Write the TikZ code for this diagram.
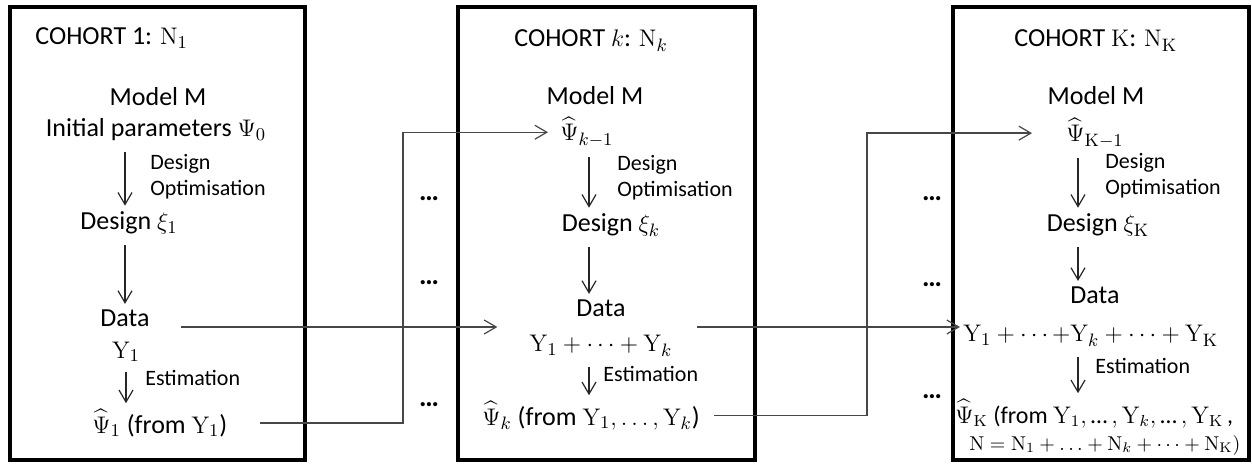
\documentclass[tikz,border=0pt]{standalone}
\usepackage{amsmath}
\usepackage[no-math]{fontspec}
\setmainfont{Carlito}
\usetikzlibrary{arrows.meta}
\begin{document}
\begin{tikzpicture}[x=0.5pt,y=-0.5pt,
  cohort/.style={draw=black,line width=1.7pt,inner sep=0pt,minimum height=226.5pt},
  txt/.style={inner sep=0pt,font=\fontsize{13}{15}\selectfont},
  lbl/.style={inner sep=0pt,font=\fontsize{11}{13}\selectfont,align=left,anchor=west},
  small/.style={inner sep=0pt,font=\fontsize{11}{13}\selectfont},
  dots/.style={inner sep=0pt,font=\fontsize{14}{16}\selectfont\bfseries},
  tip/.style={-{Straight Barb[length=6pt,width=7pt,line width=0.6pt]}},
  flow/.style={draw=black!85,line width=0.6pt,tip,shorten <=5pt,shorten >=3pt},
  link/.style={draw=black!72,line width=0.7pt}]
\useasboundingbox (0,0) rectangle (1252,464);
% cohort boxes
\node[cohort,minimum width=147.5pt] (b1) at (157.5,233.5) {};
\node[cohort,minimum width=148.5pt] (b2) at (606.5,233.5) {};
\node[cohort,minimum width=148pt] (b3) at (1101,233.5) {};
% cohort 1
\node[txt,anchor=base west] (t1) at (35,45) {COHORT 1: $\mathrm{N}_1$};
\node[txt,anchor=base] (m1) at (158,106) {Model M};
\node[txt,anchor=base] (i1) at (156,137) {Initial parameters $\Psi_0$};
\node[lbl] (do1) at (150,177) {Design\\Optimisation};
\node[txt,anchor=base] (d1) at (129,230) {Design $\xi_1$};
\node[txt,anchor=base] (da1) at (125,327) {Data};
\node[txt,anchor=base] (y1) at (126,358) {$\mathrm{Y}_1$};
\node[small,anchor=base west] (e1) at (145,386) {Estimation};
\node[txt,anchor=base west] (p1) at (92,433) {$\widehat{\Psi}_1$ (from $\mathrm{Y}_1$)};
% cohort k
\node[txt,anchor=base west] (t2) at (514,47) {COHORT $k$: $\mathrm{N}_k$};
\node[txt,anchor=base] (m2) at (595,105) {Model M};
\node[txt,anchor=base west] (p2a) at (560,141) {$\widehat{\Psi}_{k-1}$};
\node[lbl] (do2) at (617,178) {Design\\Optimisation};
\node[txt,anchor=base] (d2) at (611,232) {Design $\xi_k$};
\node[txt,anchor=base] (da2) at (601,317) {Data};
\node[txt,anchor=base] (y2) at (601,352) {$\mathrm{Y}_1+\cdots+\mathrm{Y}_k$};
\node[small,anchor=base west] (e2) at (603,382) {Estimation};
\node[txt,anchor=base west] (p2) at (482,425) {$\widehat{\Psi}_k$ (from $\mathrm{Y}_1,\ldots,\mathrm{Y}_k$)};
% cohort K
\node[txt,anchor=base west] (t3) at (1014,47) {COHORT $\mathrm{K}$: $\mathrm{N}_\mathrm{K}$};
\node[txt,anchor=base] (m3) at (1096,105) {Model M};
\node[txt,anchor=base west] (p3a) at (1066,142) {$\widehat{\Psi}_{\mathrm{K}-1}$};
\node[lbl] (do3) at (1105,176) {Design\\Optimisation};
\node[txt,anchor=base] (d3) at (1098,232) {Design $\xi_\mathrm{K}$};
\node[txt,anchor=base] (da3) at (1095,304) {Data};
\node[txt,anchor=base west] (y3) at (963,342) {$\mathrm{Y}_1+\cdots{+}\mathrm{Y}_k+\cdots+\mathrm{Y}_\mathrm{K}$};
\node[small,anchor=base west] (e3) at (1095,373) {Estimation};
\node[inner sep=0pt,font=\fontsize{12}{14}\selectfont,anchor=base west] (p3) at (955,423) {$\widehat{\Psi}_\mathrm{K}$ (from $\mathrm{Y}_1,\text{…}\,,\mathrm{Y}_k,\text{…}\,,\mathrm{Y}_\mathrm{K}$\,,};
\node[inner sep=0pt,font=\fontsize{10.3}{12}\selectfont,anchor=base west] (n3) at (969,450) {$\mathrm{N}=\mathrm{N}_1+\ldots+\mathrm{N}_k+\cdots+\mathrm{N}_\mathrm{K})$};
% dots
\node[dots,anchor=base] (g1) at (429,201) {…};
\node[dots,anchor=base] (g2) at (429,285) {…};
\node[dots,anchor=base] (g3) at (429,407) {…};
\node[dots,anchor=base] (g4) at (932,201) {…};
\node[dots,anchor=base] (g5) at (932,287) {…};
\node[dots,anchor=base] (g6) at (932,399) {…};
% vertical flow arrows
\draw[flow] (i1.south -| da1.base) -- (d1.north -| da1.base);
\draw[flow] (d1.south -| da1.base) -- (da1.north);
\draw[flow] (y1.south) -- (p1.north -| y1.south);
\draw[flow] (p2a.south -| d2.base) ++(-22,0) coordinate (q2) -- (d2.north -| q2);
\draw[flow] (d2.south -| q2) -- (da2.north -| q2);
\draw[flow] (y2.south -| q2) -- (p2.north -| q2);
\draw[flow] (p3a.south -| d3.base) ++(-20,0) coordinate (q3) -- (d3.north -| q3);
\draw[flow] (d3.south -| q3) -- (da3.north -| q3);
\draw[flow] (y3.south -| q3) -- (p3.north -| q3);
% links between cohorts
\coordinate (v1) at (403,0);
\coordinate (v2) at (867,0);
\draw[link,tip] ([xshift=15.5pt]da1.base east) -- ([xshift=-16pt]y2.west |- da1.base);
\draw[link,tip] ([xshift=16pt]p1.east) -| (v1 |- p2a.west) -- ([xshift=-6pt]p2a.west);
\draw[link,tip] ([xshift=12pt]y2.east |- da1.base) -- ([xshift=-1.5pt]y3.west |- da1.base);
\draw[link,tip] ([xshift=7pt]p2.east) -| (v2 |- p3a.west) -- ([xshift=-17pt]p3a.west);
\end{tikzpicture}
\end{document}
